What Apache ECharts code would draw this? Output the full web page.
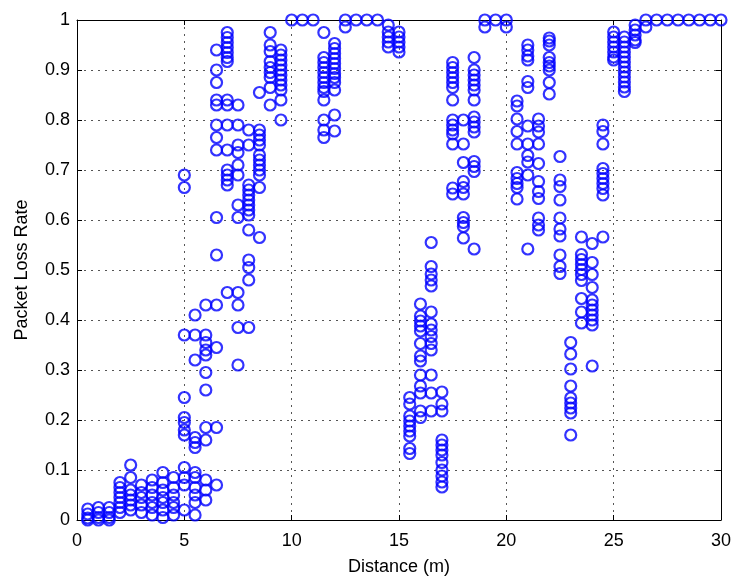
<!DOCTYPE html>
<html>
<head>
<meta charset="utf-8">
<script src="https://cdn.jsdelivr.net/npm/echarts@6/dist/echarts.min.js"></script>
<style>
    html, body { margin: 0; padding: 0; background: #fff; }
    #chart { width: 734px; height: 581px; }
</style>
</head>
<body>
<div id="chart"></div>
<script>
// distance of each measurement column (m)
const distances = [
    0.5, 1, 1.5, 2, 2.5, 3, 3.5, 4, 4.5, 5,
    5.5, 6, 6.5, 7, 7.5, 8, 8.5, 9, 9.5, 10,
    10.5, 11, 11.5, 12, 12.5, 13, 13.5, 14, 14.5, 15,
    15.5, 16, 16.5, 17, 17.5, 18, 18.5, 19, 19.5, 20,
    20.5, 21, 21.5, 22, 22.5, 23, 23.5, 24, 24.5, 25,
    25.5, 26, 26.5, 27, 27.5, 28, 28.5, 29, 29.5, 30
];

// packet loss rates measured at each distance (same order as distances)
const lossRates = [
    [0.022, 0.012, 0.004, 0],
    [0.025, 0.015, 0.005, 0],
    [0.025, 0.015, 0.005, 0],
    [0.075, 0.065, 0.055, 0.045, 0.035, 0.025, 0.015],
    [0.11, 0.085, 0.06, 0.05, 0.04, 0.03, 0.02],
    [0.07, 0.055, 0.045, 0.03, 0.015],
    [0.08, 0.065, 0.05, 0.035, 0.025, 0.01],
    [0.095, 0.075, 0.06, 0.045, 0.035, 0.02, 0.005],
    [0.085, 0.065, 0.05, 0.035, 0.025, 0.01],
    [0.69, 0.665, 0.37, 0.245, 0.205, 0.195, 0.18, 0.17, 0.105, 0.085, 0.07, 0.02],
    [0.41, 0.37, 0.32, 0.165, 0.155, 0.145, 0.095, 0.085, 0.065, 0.05, 0.035, 0.01],
    [0.43, 0.37, 0.355, 0.34, 0.33, 0.295, 0.26, 0.185, 0.16, 0.08, 0.06, 0.04],
    [0.94, 0.90, 0.875, 0.84, 0.83, 0.79, 0.765, 0.74, 0.605, 0.53, 0.43, 0.345, 0.185, 0.07],
    [0.975, 0.965, 0.955, 0.945, 0.935, 0.925, 0.917, 0.84, 0.83, 0.79, 0.74, 0.70, 0.69, 0.68, 0.67, 0.455],
    [0.83, 0.79, 0.75, 0.735, 0.71, 0.69, 0.63, 0.605, 0.455, 0.43, 0.385, 0.31],
    [0.78, 0.75, 0.67, 0.66, 0.65, 0.64, 0.63, 0.62, 0.61, 0.58, 0.52, 0.505, 0.48, 0.385],
    [0.855, 0.78, 0.77, 0.76, 0.75, 0.73, 0.72, 0.71, 0.70, 0.69, 0.665, 0.565],
    [0.975, 0.95, 0.937, 0.917, 0.905, 0.895, 0.885, 0.865, 0.83],
    [0.94, 0.93, 0.92, 0.91, 0.90, 0.89, 0.88, 0.87, 0.86, 0.84, 0.80],
    [1],
    [1],
    [1],
    [0.975, 0.925, 0.915, 0.905, 0.895, 0.885, 0.875, 0.865, 0.857, 0.84, 0.80, 0.78, 0.765],
    [0.953, 0.943, 0.933, 0.923, 0.913, 0.903, 0.893, 0.885, 0.875, 0.86, 0.81, 0.778],
    [1, 0.986],
    [1],
    [1],
    [1],
    [0.99, 0.976, 0.966, 0.956, 0.946],
    [0.976, 0.966, 0.956, 0.946, 0.936],
    [0.245, 0.232, 0.208, 0.198, 0.188, 0.178, 0.168, 0.143, 0.133],
    [0.432, 0.408, 0.398, 0.388, 0.378, 0.353, 0.328, 0.318, 0.29, 0.268, 0.254, 0.218, 0.205],
    [0.555, 0.507, 0.492, 0.48, 0.468, 0.416, 0.392, 0.38, 0.367, 0.353, 0.34, 0.29, 0.254, 0.218],
    [0.256, 0.232, 0.218, 0.16, 0.15, 0.14, 0.13, 0.115, 0.1, 0.088, 0.076, 0.066],
    [0.915, 0.905, 0.895, 0.885, 0.875, 0.865, 0.84, 0.80, 0.79, 0.78, 0.772, 0.752, 0.664, 0.652],
    [0.80, 0.752, 0.715, 0.677, 0.665, 0.652, 0.605, 0.595, 0.587, 0.564],
    [0.925, 0.90, 0.89, 0.88, 0.87, 0.86, 0.84, 0.806, 0.796, 0.786, 0.776, 0.717, 0.707, 0.697, 0.542],
    [1, 0.986],
    [1],
    [1, 0.986],
    [0.838, 0.828, 0.802, 0.777, 0.752, 0.695, 0.683, 0.673, 0.665, 0.642],
    [0.95, 0.94, 0.928, 0.92, 0.877, 0.865, 0.788, 0.752, 0.729, 0.716, 0.69, 0.542],
    [0.802, 0.788, 0.776, 0.752, 0.713, 0.677, 0.657, 0.643, 0.604, 0.59, 0.58],
    [0.964, 0.958, 0.95, 0.925, 0.915, 0.908, 0.90, 0.875, 0.852],
    [0.727, 0.68, 0.667, 0.64, 0.604, 0.582, 0.568, 0.53, 0.507, 0.493],
    [0.355, 0.332, 0.302, 0.268, 0.244, 0.234, 0.224, 0.214, 0.17],
    [0.566, 0.531, 0.521, 0.511, 0.501, 0.491, 0.479, 0.443, 0.416, 0.394],
    [0.553, 0.515, 0.491, 0.465, 0.44, 0.43, 0.42, 0.41, 0.40, 0.39, 0.308],
    [0.79, 0.777, 0.752, 0.703, 0.693, 0.683, 0.673, 0.663, 0.65, 0.566],
    [0.976, 0.966, 0.956, 0.946, 0.936, 0.926, 0.92],
    [0.966, 0.956, 0.946, 0.936, 0.926, 0.916, 0.906, 0.896, 0.886, 0.876, 0.866, 0.857],
    [0.99, 0.98, 0.97, 0.96, 0.955],
    [1, 0.986],
    [1],
    [1],
    [1],
    [1],
    [1],
    [1],
    [1]
];

const xTicks = [0, 5, 10, 15, 20, 25, 30];

const points = [];
distances.forEach((d, i) => {
    lossRates[i].forEach(v => points.push([d, v]));
});

const chart = echarts.init(document.getElementById('chart'));

const font = 'Liberation Sans, Arial, Helvetica, sans-serif';
const gridLine = {
    show: true,
    lineStyle: { color: '#555', type: [2, 5], width: 1 }
};
const frame = { show: true, onZero: false, lineStyle: { color: '#000', width: 1 } };
const ticks = { show: true, inside: true, length: 5, lineStyle: { color: '#000' } };

chart.setOption({
    backgroundColor: '#fff',
    animation: false,
    grid: { left: 77, right: 11, top: 20, bottom: 56 },
    xAxis: [
        {
            type: 'value',
            min: 0,
            max: 30,
            interval: 5,
            name: 'Distance (m)',
            nameLocation: 'middle',
            nameGap: 38,
            nameTextStyle: { color: '#000', fontSize: 18, fontFamily: font },
            axisLine: frame,
            axisTick: ticks,
            axisLabel: {
                color: '#000', fontSize: 18, fontFamily: font, margin: 12,
                customValues: xTicks
            },
            splitLine: gridLine
        },
        {
            type: 'value',
            position: 'top',
            min: 0,
            max: 30,
            interval: 5,
            axisLine: frame,
            axisTick: ticks,
            axisLabel: { show: false },
            splitLine: { show: false }
        }
    ],
    yAxis: [
        {
            type: 'value',
            min: 0,
            max: 1,
            interval: 0.1,
            name: 'Packet Loss Rate',
            nameLocation: 'middle',
            nameGap: 46,
            nameTextStyle: { color: '#000', fontSize: 18, fontFamily: font },
            axisLine: frame,
            axisTick: ticks,
            axisLabel: { color: '#000', fontSize: 18, fontFamily: font, margin: 7 },
            splitLine: gridLine
        },
        {
            type: 'value',
            position: 'right',
            min: 0,
            max: 1,
            interval: 0.1,
            axisLine: frame,
            axisTick: ticks,
            axisLabel: { show: false },
            splitLine: { show: false }
        }
    ],
    series: [
        {
            type: 'scatter',
            data: points,
            symbol: 'circle',
            symbolSize: 11,
            clip: false,
            itemStyle: {
                color: 'rgba(0,0,0,0)',
                borderColor: '#0000ff',
                borderWidth: 2.2
            }
        }
    ]
});
</script>
</body>
</html>
